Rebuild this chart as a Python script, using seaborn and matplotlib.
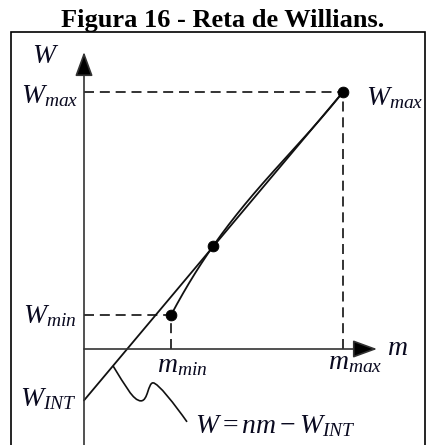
import numpy as np
import matplotlib
matplotlib.use("Agg")
import matplotlib.pyplot as plt
import seaborn as sns
from matplotlib.patches import Rectangle, PathPatch
from matplotlib.path import Path

# Measured curve of work against mass flow (normalised units)
curve_m = [0.336, 0.498, 0.75, 1.0]
curve_w = [0.132, 0.400, 0.712, 1.0]
# marked operating points: m_min, m_mid, m_max
mark_idx = [0, 1, 3]
w_int = 0.2                        # intercept W_INT

sns.set_theme(style="white")
plt.rcParams["font.family"] = ["Liberation Serif", "DejaVu Serif"]
plt.rcParams["mathtext.fontset"] = "custom"
plt.rcParams["mathtext.it"] = "Liberation Serif:italic"
plt.rcParams["mathtext.rm"] = "Liberation Serif"
plt.rcParams["mathtext.bf"] = "Liberation Serif:bold"

FW, FH = 426, 445
fig = plt.figure(figsize=(FW / 100, FH / 100), dpi=100)
fig.patch.set_facecolor("white")
ax = fig.add_axes([0, 0, 1, 1])

# pixel origin of the m/W axes and pixels per unit
X0, Y0, SX, SY = 84, 349, 259, 257
ax.set_xlim(-X0 / SX, (FW - X0) / SX)
ax.set_ylim(-(FH - Y0) / SY, Y0 / SY)
ax.axis("off")


def P(xp, yp):
    """Pixel position -> data position."""
    return (xp - X0) / SX, (Y0 - yp) / SY


ink = "#111111"
axis_ink = "#333333"

# coordinate axes with arrow heads
arrow = dict(arrowstyle="-|>,head_length=15,head_width=5.5", lw=1.2,
             color=axis_ink, fc="black", shrinkA=0, shrinkB=0,
             mutation_scale=1)
ax.annotate("", xy=(0, P(0, 52)[1]), xytext=(0, -0.5), arrowprops=arrow)
ax.annotate("", xy=(P(377, 0)[0], 0), xytext=(0, 0), arrowprops=arrow)

mark_m = [curve_m[i] for i in mark_idx]
mark_w = [curve_w[i] for i in mark_idx]

# dashed guides to W_min and W_max
dash = dict(color=ink, lw=1.2, dashes=(6, 3.5))
for i in (0, 2):
    ax.plot([0, mark_m[i]], [mark_w[i], mark_w[i]], **dash)
    ax.plot([mark_m[i], mark_m[i]], [0, mark_w[i]], **dash)

# measured curve through the operating points
coef = np.polyfit(curve_m, curve_w, 3)
mm = np.linspace(curve_m[0], curve_m[-1], 200)
sns.lineplot(x=mm, y=np.polyval(coef, mm), ax=ax, color=ink, lw=1.3,
             sort=False, estimator=None)

# Willians straight line W = n m - W_INT
n_slope = (mark_w[2] + w_int) / mark_m[2]
line_m = [0.0, mark_m[2]]
line_w = [n_slope * m - w_int for m in line_m]
sns.lineplot(x=line_m, y=line_w, ax=ax, color=ink, lw=1.3,
             sort=False, estimator=None)

sns.scatterplot(x=mark_m, y=mark_w, ax=ax, s=60, color="black",
                edgecolor="black", zorder=5)

# wavy leader from the line to its equation
m_a = 0.112
ax0, ay0 = m_a, n_slope * m_a - w_int
off = [(0, 0), (12, 19), (20, 35), (28, 35), (35, 35), (35, 17), (40, 17),
       (45, 17), (62, 39), (74, 56)]
verts = [(ax0 + dx / SX, ay0 - dy / SY) for dx, dy in off]
codes = [Path.MOVETO] + [Path.CURVE4] * 9
ax.add_patch(PathPatch(Path(verts, codes), fill=False, lw=1.2, color=ink))

# labels
fs = 20
tk = dict(fontsize=fs, color="#0a0a20", va="baseline")
ax.text(*P(32, 63), r"$W$", ha="left", **tk)
ax.text(*P(78, 103), r"$W_{max}$", ha="right", **tk)
ax.text(*P(423, 105), r"$W_{max}$", ha="right", **tk)
ax.text(*P(76, 323), r"$W_{min}$", ha="right", **tk)
ax.text(*P(77, 406), r"$W_{INT}$", ha="right", **tk)
ax.text(*P(157, 372), r"$m_{min}$", ha="left", **tk)
ax.text(*P(328, 369), r"$m_{max}$", ha="left", **tk)
ax.text(*P(387, 355), r"$m$", ha="left", **tk)
ax.text(*P(195, 433), r"$W = nm - W_{INT}$", ha="left", **tk)

# frame around the drawing
fig.add_artist(Rectangle((11 / FW, -0.05), (425 - 11) / FW, 1 - 32 / FH + 0.05,
                         transform=fig.transFigure, fill=False, lw=1.2,
                         edgecolor="black"))

fig.text(223 / FW, 1 - 27 / FH, "Figura 16 - Reta de Willians.",
         ha="center", va="baseline", fontsize=19, fontweight="bold",
         color="black", family="Liberation Serif")

fig.savefig("out.png", dpi=100, facecolor="white")
